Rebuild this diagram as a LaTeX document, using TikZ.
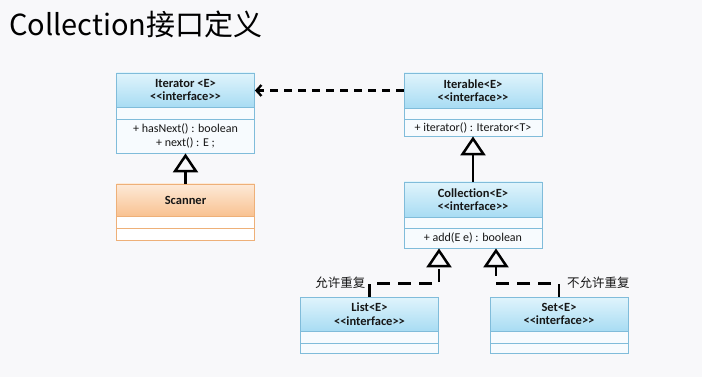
\documentclass[tikz,border=0pt]{standalone}
\usepackage{fontspec}
\setmainfont{Carlito}[Ligatures=NoCommon]
\newfontfamily\cjk{Noto Sans CJK SC}
\usetikzlibrary{arrows.meta,calc}
\definecolor{bg}{RGB}{248,248,250}
\definecolor{blueTop}{RGB}{224,244,252}
\definecolor{blueBot}{RGB}{168,220,243}
\definecolor{blueLine}{RGB}{128,188,218}
\definecolor{orTop}{RGB}{253,234,216}
\definecolor{orBot}{RGB}{249,194,145}
\definecolor{orLine}{RGB}{238,176,120}
\definecolor{cellBlue}{RGB}{247,251,254}
\definecolor{ink}{RGB}{22,22,22}
\newcommand{\lt}{\char"3C\relax}
\newcommand{\gt}{\char"3E\relax}
\newcommand{\intf}{\lt\lt interface\gt\gt}
\begin{document}
\begin{tikzpicture}[x=1pt,y=-1pt,
  hdr/.style={draw=blueLine, line width=0.8pt, top color=blueTop, bottom color=blueBot,
    minimum width=138pt, inner sep=0pt, align=center, text=ink,
    font=\fontsize{12.5}{13.5}\selectfont\bfseries},
  ohdr/.style={hdr, draw=orLine, top color=orTop, bottom color=orBot},
  cellb/.style={draw=blueLine, line width=0.8pt, fill=cellBlue, minimum width=138pt,
    inner sep=0pt, align=center, text=ink, font=\fontsize{12}{14}\selectfont},
  cello/.style={cellb, draw=orLine, fill=white},
  gen/.style={draw=black, line width=2.5pt, -{Triangle[open, length=19pt, width=25pt]}},
  real/.style={gen, dash pattern=on 13pt off 8pt},
  dep/.style={draw=black, line width=2.3pt, dash pattern=on 8pt off 6pt,
    -{Straight Barb[length=5pt, width=11pt]}},
  lbl/.style={font=\cjk\fontsize{12.5}{14}\selectfont, text=ink, inner sep=0pt}
]
\useasboundingbox[fill=bg] (0,0) rectangle (702,377);

% title
\node[anchor=west, inner sep=0pt, font=\cjk\fontsize{29}{32}\selectfont, text=black] (title) at (9,24) {Collection接口定义};

% Iterator
\node[hdr, minimum height=34pt] (iter) at (185.5,90) {Iterator \lt E\gt\\\intf};
\node[cellb, minimum height=12pt] (iterA) at (185.5,113) {};
\node[cellb, minimum height=34pt] (iterB) at (185.5,136) {+ hasNext() : boolean\\+ next() : E ;};

% Scanner
\node[ohdr, minimum height=32pt] (scan) at (185.5,200) {Scanner};
\node[cello, minimum height=12pt] (scanA) at (185.5,222) {};
\node[cello, minimum height=12pt] (scanB) at (185.5,234) {};

% Iterable
\node[hdr, minimum height=35pt] (itbl) at (473,90.5) {Iterable\lt E\gt\\\intf};
\node[cellb, minimum height=11pt] (itblA) at (473,113.5) {};
\node[cellb, minimum height=17pt] (itblB) at (473,127.5) {+ iterator() : Iterator\lt T\gt};

% Collection
\node[hdr, minimum height=35pt] (coll) at (473,199.5) {Collection\lt E\gt\\\intf};
\node[cellb, minimum height=11pt] (collA) at (473,222.5) {};
\node[cellb, minimum height=20pt] (collB) at (473,238) {+ add(E e) : boolean};

% List
\node[hdr, minimum height=34pt] (list) at (369.5,314) {List\lt E\gt\\\intf};
\node[cellb, minimum height=12pt] (listA) at (369.5,337) {};
\node[cellb, minimum height=10pt] (listB) at (369.5,348) {};

% Set
\node[hdr, minimum height=34pt] (set) at (559,314) {Set\lt E\gt\\\intf};
\node[cellb, minimum height=12pt] (setA) at (559,337) {};
\node[cellb, minimum height=10pt] (setB) at (559,348) {};

% connectors
\draw[dep] (itbl.west) -- (itbl.west -| iter.east);
\draw[gen] (scan.north) -- (iterB.south);
\draw[gen] (coll.north) -- (itblB.south);
\coordinate (lt) at ($(collB.south)+(-34,0)$);
\coordinate (rt) at ($(collB.south)+(23,0)$);
\draw[real] (list.north) |- ($(lt)+(0,35)$) -- (lt);
\draw[real] (set.north) |- ($(rt)+(0,35)$) -- (rt);

% labels
\node[lbl, anchor=east] (lblL) at ($(list.north)+(-4,-14)$) {允许重复};
\node[lbl, anchor=west] (lblR) at ($(set.north)+(8,-14)$) {不允许重复};
\end{tikzpicture}
\end{document}
